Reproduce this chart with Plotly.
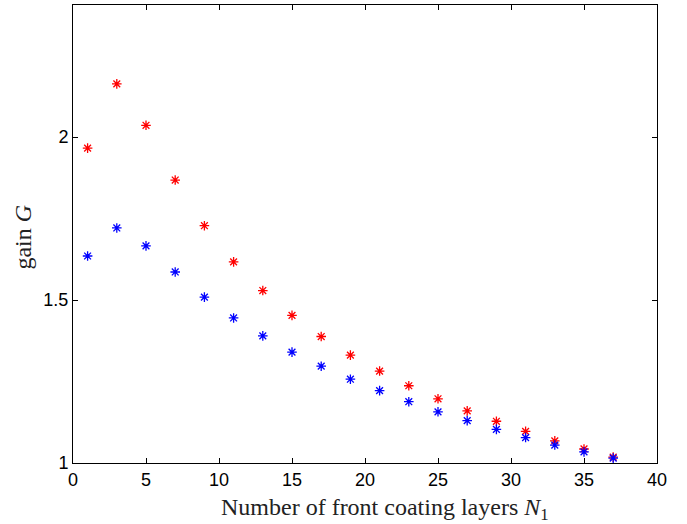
import plotly.graph_objects as go

layers = [1, 3, 5, 7, 9, 11, 13, 15, 17, 19, 21, 23, 25, 27, 29, 31, 33, 35, 37]
gain_red = [1.966, 2.163, 2.036, 1.868, 1.728, 1.617, 1.529, 1.453, 1.388, 1.331,
            1.282, 1.237, 1.197, 1.160, 1.128, 1.097, 1.068, 1.043, 1.018]
gain_blue = [1.635, 1.721, 1.666, 1.586, 1.509, 1.445, 1.390, 1.340, 1.297, 1.257,
             1.222, 1.188, 1.157, 1.130, 1.103, 1.078, 1.055, 1.034, 1.015]
x_ticks = [0, 5, 10, 15, 20, 25, 30, 35, 40]
y_ticks = [1, 1.5, 2]
y_tick_labels = ["1", "1.5", "2"]

fig = go.Figure()
for ys, col in [(gain_red, "#ff0000"), (gain_blue, "#0000ff")]:
    fig.add_trace(go.Scatter(
        x=layers, y=ys, mode="markers",
        marker=dict(symbol="asterisk-open", size=8, color=col,
                    line=dict(color=col, width=1.3)),
        showlegend=False, cliponaxis=False))

axis_common = dict(showgrid=False, zeroline=False, showline=True, linecolor="black",
                   linewidth=1, mirror="ticks", ticks="inside", ticklen=5,
                   tickcolor="black", tickfont=dict(family="Liberation Sans", size=18, color="black"))
fig.update_xaxes(range=[0, 40], tickvals=x_ticks, **axis_common)
fig.update_yaxes(range=[1, 2.405], tickvals=y_ticks, ticktext=y_tick_labels, **axis_common)

title_font = dict(family="Liberation Serif", size=24, color="#222")
fig.add_annotation(text="Number of front coating layers <i>N</i><sub>1</sub>",
                   xref="paper", yref="paper", x=0.534, y=-0.100,
                   xanchor="center", yanchor="middle", showarrow=False, font=title_font)
fig.add_annotation(text="gain <i>G</i>", textangle=-90,
                   xref="paper", yref="paper", x=-0.085, y=0.493,
                   xanchor="center", yanchor="middle", showarrow=False, font=title_font)
fig.update_layout(width=687, height=524, margin=dict(l=73, r=30, t=5, b=61),
                  plot_bgcolor="white", paper_bgcolor="white")
fig.write_html("out.html")
